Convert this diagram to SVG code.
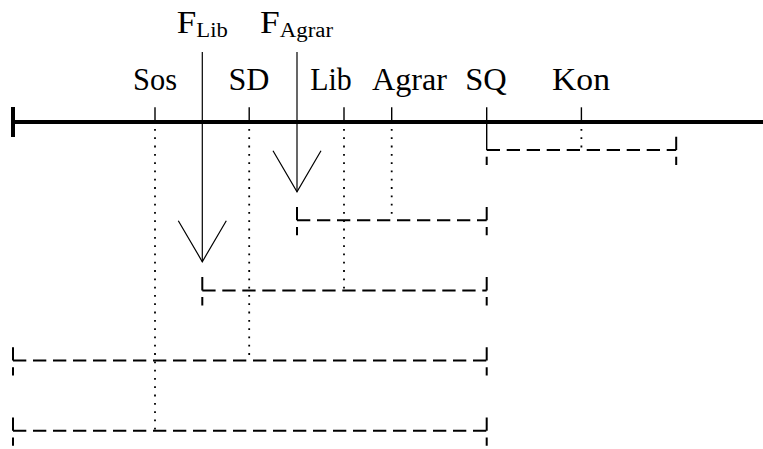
<svg xmlns="http://www.w3.org/2000/svg" width="763" height="449" viewBox="0 0 763 449">
<style>
.lbl{font-family:'Liberation Serif','Times New Roman',serif;font-size:31px;fill:#000;text-anchor:middle}
.sub{font-size:20px}
.tick{stroke:#000;stroke-width:1.4;fill:none}
.dot{stroke:#000;stroke-width:1.8;stroke-dasharray:1.8 6.5;fill:none}
.dash{stroke:#000;stroke-width:2;stroke-dasharray:13.3 6.7;fill:none}
.arr{stroke:#000;stroke-width:1.2;fill:none}
</style>
<rect width="763" height="449" fill="#fff"/>
<g id="axis">
<line x1="13" y1="122" x2="763" y2="122" stroke="#000" stroke-width="4"/>
<line x1="13" y1="107" x2="13" y2="137" stroke="#000" stroke-width="4"/>
</g>
<g id="Sos"><line class="tick" x1="155" y1="107.3" x2="155" y2="122"/><text class="lbl" x="155" y="90" font-family="Liberation Serif" textLength="44" lengthAdjust="spacingAndGlyphs">Sos</text></g>
<g id="SD"><line class="tick" x1="249.2" y1="107.3" x2="249.2" y2="122"/><text class="lbl" x="249" y="90" font-family="Liberation Serif" textLength="41" lengthAdjust="spacingAndGlyphs">SD</text></g>
<g id="Lib"><line class="tick" x1="344" y1="107.3" x2="344" y2="122"/><text class="lbl" x="331" y="90" font-family="Liberation Serif" textLength="41.5" lengthAdjust="spacingAndGlyphs">Lib</text></g>
<g id="Agrar"><line class="tick" x1="391.7" y1="107.3" x2="391.7" y2="122"/><text class="lbl" x="409.5" y="90" font-family="Liberation Serif" textLength="75" lengthAdjust="spacingAndGlyphs">Agrar</text></g>
<g id="SQ"><line class="tick" x1="486.7" y1="107.3" x2="486.7" y2="150"/><text class="lbl" x="486" y="90" font-family="Liberation Serif" textLength="41.5" lengthAdjust="spacingAndGlyphs">SQ</text></g>
<g id="Kon"><line class="tick" x1="581.4" y1="107.3" x2="581.4" y2="122"/><text class="lbl" x="581" y="90" font-family="Liberation Serif" textLength="58" lengthAdjust="spacingAndGlyphs">Kon</text></g>
<g id="F_Lib">
<text class="lbl" x="202.3" y="33" font-family="Liberation Serif" textLength="51" lengthAdjust="spacingAndGlyphs">F<tspan class="sub" dy="4">Lib</tspan></text>
<line class="arr" x1="202.3" y1="52" x2="202.3" y2="261.7"/>
<polyline class="arr" points="178.3,220.7 202.3,261.7 226.3,220.7"/>
</g>
<g id="F_Agrar">
<text class="lbl" x="296.5" y="33" font-family="Liberation Serif" textLength="73" lengthAdjust="spacingAndGlyphs">F<tspan class="sub" dy="4">Agrar</tspan></text>
<line class="arr" x1="297" y1="52" x2="297" y2="191.7"/>
<polyline class="arr" points="273,150.7 297,191.7 321,150.7"/>
</g>
<g id="connectors">
<line class="dot" x1="155" y1="129" x2="155" y2="430.8"/>
<line class="dot" x1="249.2" y1="129" x2="249.2" y2="360.6"/>
<line class="dot" x1="344" y1="129" x2="344" y2="290.4"/>
<line class="dot" x1="391.7" y1="129" x2="391.7" y2="220.2"/>
<line class="dot" x1="581.4" y1="129" x2="581.4" y2="150"/>
<path class="dash" d="M486.7,150 H676.2"/>
<path class="dash" d="M486.7,156.7 V165"/>
<path class="dash" d="M676.2,136.7 V165"/>
<path class="dash" d="M297,220.2 H486.7"/>
<path class="dash" d="M297,206.9 V235.2"/>
<path class="dash" d="M486.7,206.9 V235.2"/>
<path class="dash" d="M202.3,290.4 H486.7"/>
<path class="dash" d="M202.3,277.1 V305.4"/>
<path class="dash" d="M486.7,277.1 V305.4"/>
<path class="dash" d="M13,360.6 H486.7"/>
<path class="dash" d="M13,347.3 V375.6"/>
<path class="dash" d="M486.7,347.3 V375.6"/>
<path class="dash" d="M13,430.8 H486.7"/>
<path class="dash" d="M13,417.5 V445.8"/>
<path class="dash" d="M486.7,417.5 V445.8"/>
</g>
</svg>
